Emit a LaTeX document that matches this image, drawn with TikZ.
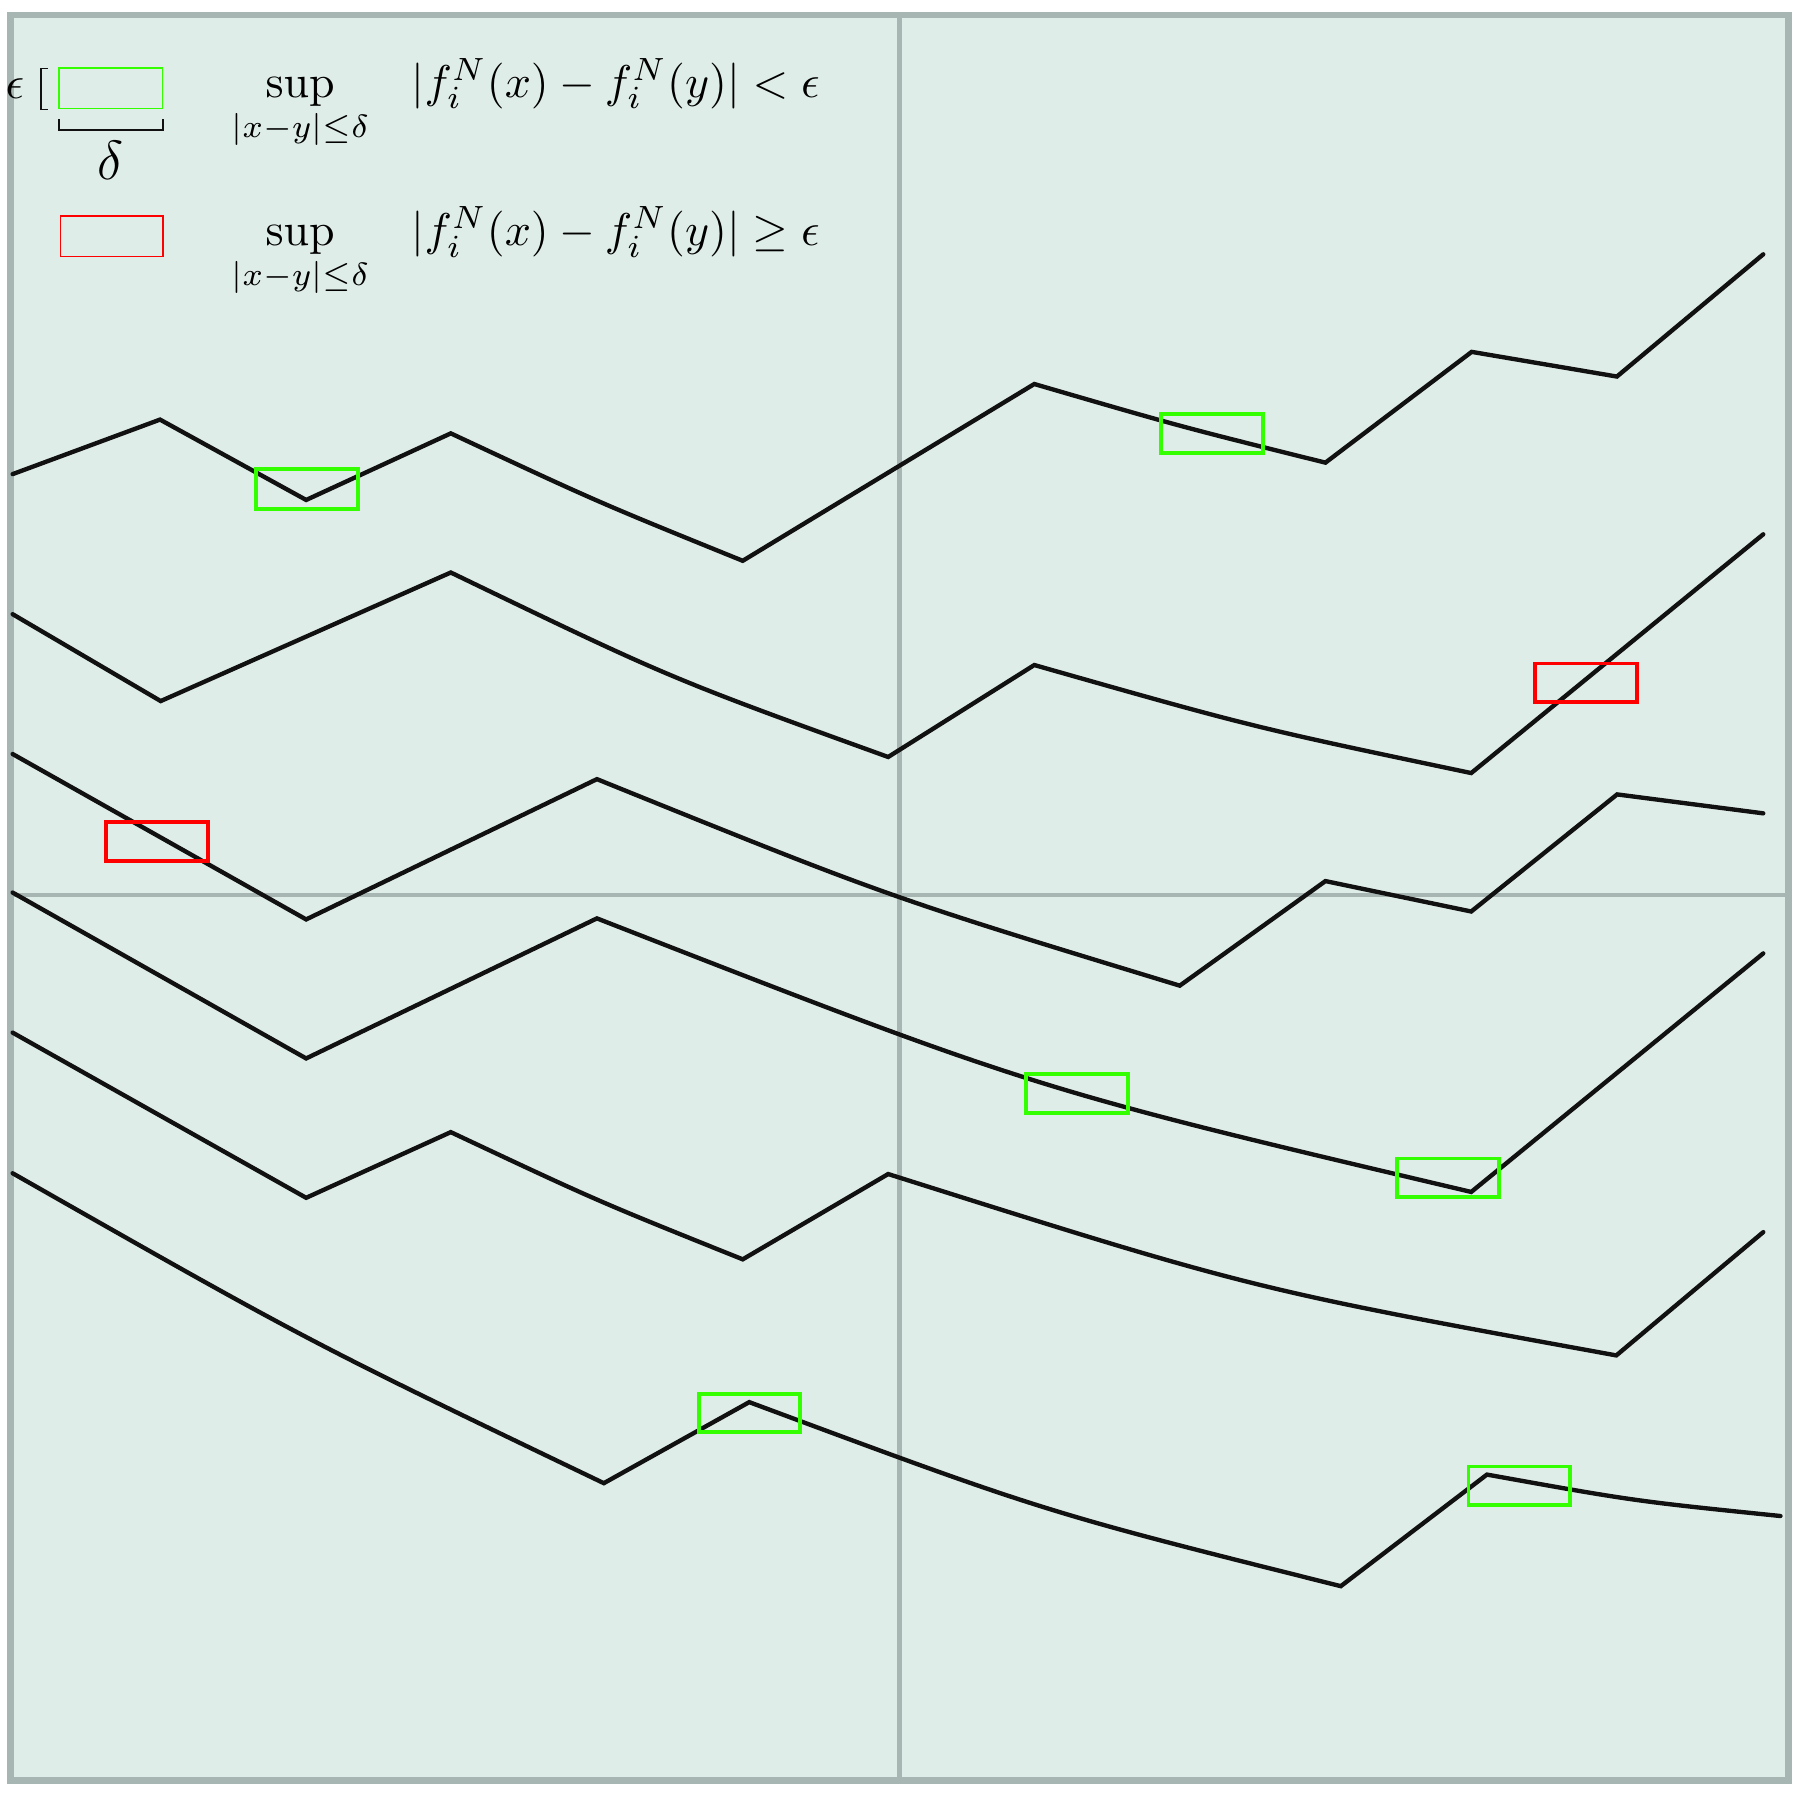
\documentclass[tikz,border=0pt]{standalone}
\usepackage{amsmath}
\definecolor{bg}{RGB}{223,237,232}
\definecolor{framegray}{RGB}{167,181,179}
\definecolor{boxgreen}{RGB}{51,255,0}
\definecolor{boxred}{RGB}{255,0,0}
\definecolor{curvecol}{RGB}{17,17,17}
\begin{document}
\begin{tikzpicture}[x=0.25pt,y=-0.25pt,
  fn/.style={draw=curvecol,line width=0.95pt,line cap=round,line join=miter},
  gbox/.style={draw=boxgreen,line width=0.85pt},
  rbox/.style={draw=boxred,line width=0.85pt},
  gridln/.style={draw=framegray,line width=1pt},
  thinln/.style={draw=curvecol,line width=0.3pt},
  lbl/.style={inner sep=0pt,font=\fontsize{10.4pt}{12pt}\selectfont}]
\useasboundingbox (0,0) rectangle (1568,1568);
% background and frame
\fill[bg] (9,13) rectangle (1558,1551);
\draw[gridln] (783.5,13) -- (783.5,1551);
\draw[gridln] (9,779.5) -- (1558,779.5);
\draw[framegray,line width=1.4pt] (9,13) rectangle (1558,1551);

% curves
\draw[fn] (11,413) -- (139.4,365.5) -- (266.7,435.5) -- (392.7,377.5)
  .. controls (520,437) .. (647,488.5) -- (901,334.5)
  .. controls (1028,371.5) .. (1154.6,403) -- (1282,306.5) -- (1408.5,328) -- (1536,221.5);
\draw[fn] (11,535) -- (140,610.7) -- (392.7,498.7)
  .. controls (583,590.5) .. (773.7,659.4) -- (901,579.3)
  .. controls (1091.3,633.4) .. (1281.6,673.4) -- (1536,465.4);
\draw[fn] (11,656.8) -- (266.7,800.9) -- (520,678.7)
  .. controls (773.9,781.3) .. (1027.7,858.6) -- (1154.6,767.5) -- (1281.6,794) -- (1408.7,692) -- (1536,708.5);
\draw[fn] (11,777.5) -- (266.7,922) -- (520,800)
  .. controls (900.8,948.5) .. (1281.6,1038.3) -- (1536,830.5);
\draw[fn] (11,899.5) -- (266.7,1043.4) -- (392.7,986.2)
  .. controls (519.9,1046) .. (647,1097) -- (773.7,1022.7)
  .. controls (1090.9,1122.9) .. (1408,1180.7) -- (1536,1073.3);
\draw[fn] (11,1022) .. controls (268.5,1168.5) .. (526,1292) -- (652.7,1221.4)
  .. controls (910.4,1317.2) .. (1168,1381.7) -- (1295.3,1284.5)
  .. controls (1423.2,1307.5) .. (1551,1320.6);

% boxes on the curves
\draw[gbox] (223.3,408.2) rectangle (311.8,443);
\draw[gbox] (1011.6,360.9) rectangle (1100.4,394.6);
\draw[gbox] (893.6,935.3) rectangle (982.4,969.8);
\draw[gbox] (1216.9,1009.2) rectangle (1305.7,1042.6);
\draw[gbox] (608.6,1214.1) rectangle (697,1247.4);
\draw[gbox] (1279.2,1277.5) rectangle (1367.7,1310.9);
\draw[rbox] (92.3,716.3) rectangle (181.1,749.9);
\draw[rbox] (1337,578) rectangle (1425.8,611.4);

% legend
\draw[draw=boxgreen,line width=0.3pt] (51.3,59.2) rectangle (141.8,94.7);
\draw[draw=boxred,line width=0.3pt] (52.5,188) rectangle (142.1,223.5);
\draw[thinln] (41.5,59.5) -- (35.7,59.5) -- (35.7,95.2) -- (41.5,95.2);
\draw[curvecol,line width=0.4pt] (51.3,104) -- (51.3,113.3) -- (141.8,113.3) -- (141.8,104);
\node[lbl,anchor=base] (eps) at (13,85.5) {$\epsilon$};
\node[lbl,anchor=base,font=\fontsize{12.5pt}{14pt}\selectfont] (delta) at (96.5,156) {$\delta$};
\node[lbl,anchor=base] (supA) at (261.5,84.5) {$\displaystyle\sup_{|x-y|\leq\delta}$};
\node[lbl,anchor=base west] (formA) at (358,84.5) {$|f_i^N(x)-f_i^N(y)|<\epsilon$};
\node[lbl,anchor=base] (supB) at (261.5,213.5) {$\displaystyle\sup_{|x-y|\leq\delta}$};
\node[lbl,anchor=base west] (formB) at (358,213.5) {$|f_i^N(x)-f_i^N(y)|\geq\epsilon$};
\end{tikzpicture}
\end{document}
